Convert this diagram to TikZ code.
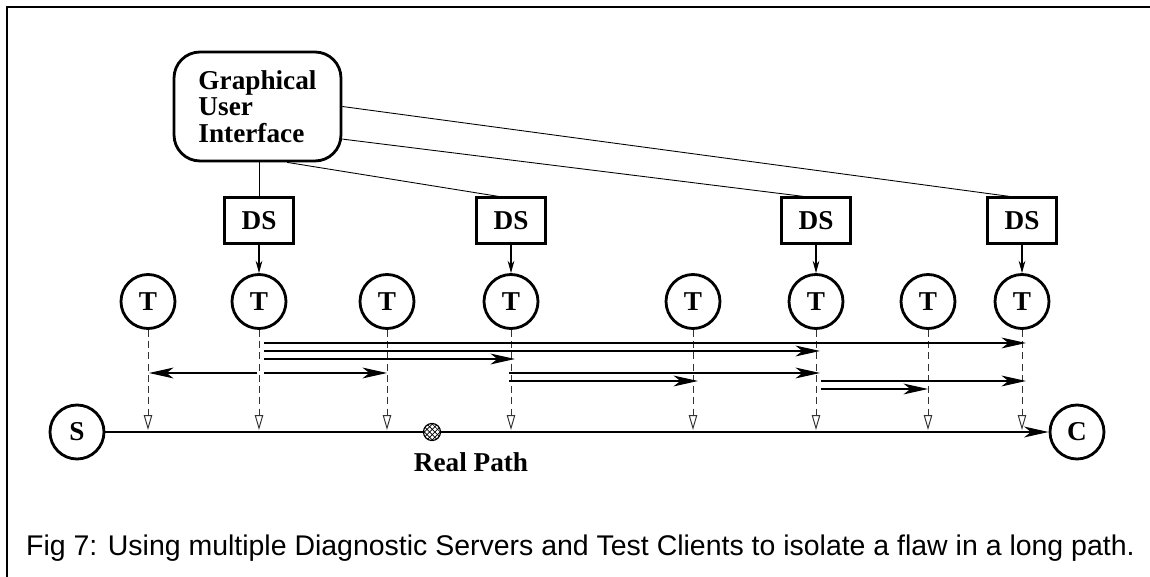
\documentclass[tikz,border=0pt]{standalone}
\usepackage{fontspec}
\setmainfont{Liberation Serif}
\newfontfamily\capfont{Liberation Sans}
\usetikzlibrary{arrows.meta,patterns,calc}

\begin{document}
\begin{tikzpicture}[x=0.02cm, y=-0.02cm,
  every node/.style={font=\fontsize{15.5}{15.2}\selectfont\bfseries},
  gui/.style={draw, line width=1.6pt, rounded corners=0.52cm, align=left,
    minimum width=3.34cm, minimum height=2.18cm},
  dsbox/.style={draw, line width=1.2pt, minimum width=1.38cm, minimum height=0.92cm},
  tnode/.style={draw, circle, line width=1.6pt, minimum size=1.08cm, inner sep=0pt},
  link/.style={line width=0.5pt},
  feed/.style={line width=0.6pt, -{Stealth[length=7pt, width=3.8pt]}},
  probe/.style={line width=0.55pt, black!80, dash pattern=on 4pt off 2.4pt,
    -{Triangle[fill=white, length=8.5pt, width=4.8pt]}},
  msg/.style={line width=0.6pt, -{Stealth[length=14pt, width=6.2pt, inset=4pt]}}]
\useasboundingbox (0,0) rectangle (1150,577);
\def\pathy{432}

% frame
\draw[line width=1.1pt] (7,577) -- (7,7) -- (1150,7);

% user interface and diagnostic servers
\node[gui] (gui) at (257.5,106.5) {Graphical\\User\\Interface};
\node[dsbox] (ds1) at (259,220.5) {DS};
\node[dsbox] (ds2) at (511,220.5) {DS};
\node[dsbox] (ds3) at (816,220.5) {DS};
\node[dsbox] (ds4) at (1022,220.5) {DS};

\draw[link] (gui.south -| ds1.north) -- (ds1.north);
\draw[link] (gui.-62) -- (ds2.117);
\draw[link] (gui.-21) -- (ds3.117);
\draw[link] (gui.east) -- (ds4.117);

% test clients
\node[tnode] (t1) at (148,301.5) {T};
\node[tnode] (t2) at (259,301.5) {T};
\node[tnode] (t3) at (387,301.5) {T};
\node[tnode] (t4) at (511,301.5) {T};
\node[tnode] (t5) at (693,301.5) {T};
\node[tnode] (t6) at (816,301.5) {T};
\node[tnode] (t7) at (928,301.5) {T};
\node[tnode] (t8) at (1022,301.5) {T};

\draw[feed] (ds1.south) -- (t2.north);
\draw[feed] (ds2.south) -- (t4.north);
\draw[feed] (ds3.south) -- (t6.north);
\draw[feed] (ds4.south) -- (t8.north);

% server, client and the real path
\node[tnode] (s) at (77,\pathy) {S};
\node[tnode] (c) at (1077,\pathy) {C};
\draw[msg] (s) -- (c);
\node[draw, circle, inner sep=0pt, minimum size=0.34cm, line width=0.7pt,
  preaction={fill=white}, pattern=crosshatch] (flaw) at (432,\pathy) {};
\node[anchor=base] (real) at (471,472) {Real Path};

% taps from each client down to the path
\coordinate (tap) at (0,430);
\draw[probe] (t1.south) -- (t1.south |- tap);
\draw[probe] (t2.south) -- (t2.south |- tap);
\draw[probe] (t3.south) -- (t3.south |- tap);
\draw[probe] (t4.south) -- (t4.south |- tap);
\draw[probe] (t5.south) -- (t5.south |- tap);
\draw[probe] (t6.south) -- (t6.south |- tap);
\draw[probe] (t7.south) -- (t7.south |- tap);
\draw[probe] (t8.south) -- (t8.south |- tap);

% tests between pairs of clients
\coordinate (l1) at (0,343);
\coordinate (l2) at (0,351);
\coordinate (l3) at (0,359);
\coordinate (l4) at (0,373);
\coordinate (l5) at (0,381);
\coordinate (l6) at (0,389);
\draw[msg] ($(t2 |- l1)+(5,0)$) -- ($(t8 |- l1)+(4,0)$);
\draw[msg] ($(t2 |- l2)+(5,0)$) -- ($(t6 |- l2)+(4,0)$);
\draw[msg] ($(t2 |- l3)+(5,0)$) -- ($(t4 |- l3)+(4,0)$);
\draw[msg] ($(t2 |- l4)+(-2,0)$) -- ($(t1 |- l4)+(1,0)$);
\draw[msg] ($(t2 |- l4)+(5,0)$) -- ($(t3 |- l4)+(0,0)$);
\draw[msg] ($(t4 |- l4)+(-2,0)$) -- ($(t6 |- l4)+(4,0)$);
\draw[msg] ($(t4 |- l5)+(-2,0)$) -- ($(t5 |- l5)+(5,0)$);
\draw[msg] ($(t6 |- l5)+(5,0)$) -- ($(t8 |- l5)+(4,0)$);
\draw[msg] ($(t6 |- l6)+(5,0)$) -- ($(t7 |- l6)+(0,0)$);

\node[anchor=base west, font=\capfont\fontsize{16.2}{18}\selectfont] (cap) at (20,556)
  {Fig 7: Using multiple Diagnostic Servers and Test Clients to isolate a flaw in a long path.};
\end{tikzpicture}
\end{document}
